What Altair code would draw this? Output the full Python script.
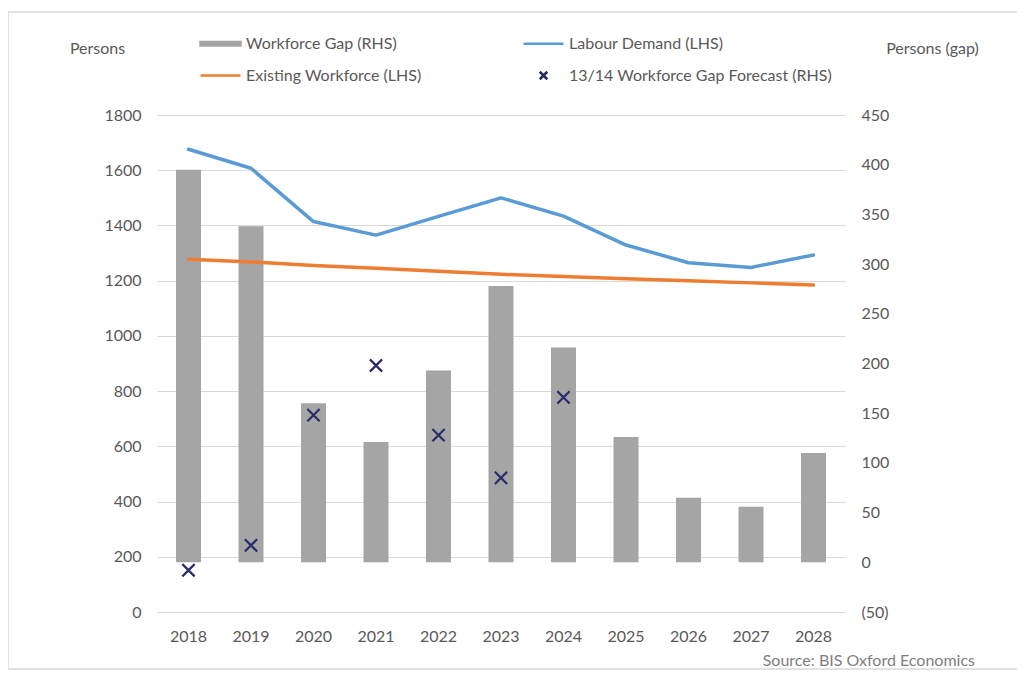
import altair as alt
import pandas as pd

years = ["2018", "2019", "2020", "2021", "2022", "2023", "2024", "2025", "2026", "2027", "2028"]
workforce_gap = [395, 338, 160, 121, 193, 278, 216, 126, 65, 56, 110]
labour_demand = [1676, 1607, 1414, 1365, 1433, 1500, 1434, 1329, 1265, 1248, 1293]
existing_workforce = [1278, 1268, 1255, 1245, 1234, 1223, 1215, 1207, 1200, 1192, 1184]
forecast_years = ["2018", "2019", "2020", "2021", "2022", "2023", "2024"]
forecast_gap = [-8, 17, 148, 198, 128, 85, 166]

left_ticks = [0, 200, 400, 600, 800, 1000, 1200, 1400, 1600, 1800]
right_ticks = [-50, 0, 50, 100, 150, 200, 250, 300, 350, 400, 450]

series_names = [
    "Workforce Gap (RHS)",
    "Labour Demand (LHS)",
    "Existing Workforce (LHS)",
    "13/14 Workforce Gap Forecast (RHS)",
]
GRAY = "#A5A5A5"
BLUE = "#5B9BD5"
ORANGE = "#ED7D31"
NAVY = "#2B2A68"
TEXT = "#595959"
FONT = "Lato"
FS = 16

main_df = pd.DataFrame({
    "year": years,
    "gap": workforce_gap,
    "demand": labour_demand,
    "existing": existing_workforce,
})
fc_df = pd.DataFrame({"year": forecast_years, "forecast": forecast_gap})
legend_df = pd.DataFrame({"series": series_names})

x_enc = alt.X(
    "year:N",
    sort=years,
    scale=alt.Scale(paddingInner=0.6, paddingOuter=0.304),
    axis=alt.Axis(title=None, labelAngle=0, domain=False, ticks=False, grid=False,
                  labelPadding=16, labelFontSize=FS, labelColor=TEXT, labelFont=FONT),
)

right_scale = alt.Scale(domain=[-50, 450], nice=False, zero=False)
left_scale = alt.Scale(domain=[0, 1800], nice=False, zero=False)

bars = alt.Chart(main_df).mark_bar(color=GRAY).encode(
    x=x_enc,
    y=alt.Y("gap:Q", scale=right_scale,
            axis=alt.Axis(orient="right", values=right_ticks, grid=False, domain=False, ticks=False,
                          labelPadding=16, labelFontSize=FS, labelColor=TEXT, labelFont=FONT,
                          labelExpr="datum.value < 0 ? '(' + abs(datum.value) + ')' : datum.label",
                          title="Persons (gap)", titleAngle=0, titleX=87, titleY=-67,
                          titleAlign="center", titleBaseline="middle", titleFontSize=FS,
                          titleFontWeight="normal", titleColor=TEXT, titleFont=FONT)),
    y2=alt.datum(0),
)

demand_line = alt.Chart(main_df).mark_line(color=BLUE, strokeWidth=3.5, strokeCap="round", strokeJoin="round").encode(
    x=alt.X("year:N", sort=years),
    y=alt.Y("demand:Q", scale=left_scale,
            axis=alt.Axis(orient="left", values=left_ticks, format="d", grid=True, gridColor="#D9D9D9",
                          gridWidth=1.2, domain=False, ticks=False,
                          labelPadding=16, labelFontSize=FS, labelColor=TEXT, labelFont=FONT,
                          title="Persons", titleAngle=0, titleX=-60, titleY=-67,
                          titleAlign="center", titleBaseline="middle", titleFontSize=FS,
                          titleFontWeight="normal", titleColor=TEXT, titleFont=FONT)),
)

existing_line = alt.Chart(main_df).mark_line(color=ORANGE, strokeWidth=3.5, strokeCap="round", strokeJoin="round").encode(
    x=alt.X("year:N", sort=years),
    y=alt.Y("existing:Q", scale=left_scale, axis=None),
)

crosses = alt.Chart(fc_df).mark_point(
    shape="M-1,-1L1,1M1,-1L-1,1", filled=False, color=NAVY, strokeWidth=2.2, size=150, opacity=1
).encode(
    x=alt.X("year:N", sort=years),
    y=alt.Y("forecast:Q", scale=right_scale, axis=None),
)

leg = alt.Legend(
    title=None, orient="none", legendX=47, legendY=-88, columns=2, columnPadding=96,
    rowPadding=7, padding=0, labelFontSize=FS, labelColor=TEXT, labelFont=FONT,
    labelOffset=9, labelLimit=400, symbolSize=900, symbolStrokeWidth=2.6, symbolOpacity=1,
    direction="horizontal",
)
legend_layer = alt.Chart(legend_df).mark_point(opacity=1).encode(
    shape=alt.Shape("series:N", sort=series_names, legend=leg,
                    scale=alt.Scale(domain=series_names,
                                    range=["M-1.33,-0.12L1.33,-0.12L1.33,0.12L-1.33,0.12Z",
                                           "M-1.33,0L1.33,0",
                                           "M-1.33,0L1.33,0",
                                           "M-0.25,-0.25L0.25,0.25M0.25,-0.25L-0.25,0.25"])),
    fill=alt.Fill("series:N", sort=series_names, legend=leg,
                  scale=alt.Scale(domain=series_names,
                                  range=[GRAY, "transparent", "transparent", "transparent"])),
    stroke=alt.Stroke("series:N", sort=series_names, legend=leg,
                      scale=alt.Scale(domain=series_names, range=[GRAY, BLUE, ORANGE, NAVY])),
).transform_filter("false")

frame = alt.Chart(alt.Data(values=[{}])).mark_rect(fill="transparent", stroke="#D9D9D9", strokeWidth=1.5).encode(
    x=alt.value(-149), x2=alt.value(1000), y=alt.value(-103), y2=alt.value(554)
)

chart = alt.layer(frame, bars, demand_line, existing_line, crosses, legend_layer).resolve_scale(
    y="independent"
).properties(
    width=688,
    height=497,
    padding={"left": 149, "top": 107, "right": 172, "bottom": 59},
    autosize=alt.AutoSizeParams(type="none"),
    title=alt.TitleParams("Source: BIS Oxford Economics", orient="bottom", anchor="end", frame="group",
                          dx=130, offset=-17, fontSize=16, font=FONT, fontWeight="normal", color="#7F7F7F"),
).configure_view(stroke=None)

chart.save("out.html", embed_options={"renderer": "svg", "actions": False})
